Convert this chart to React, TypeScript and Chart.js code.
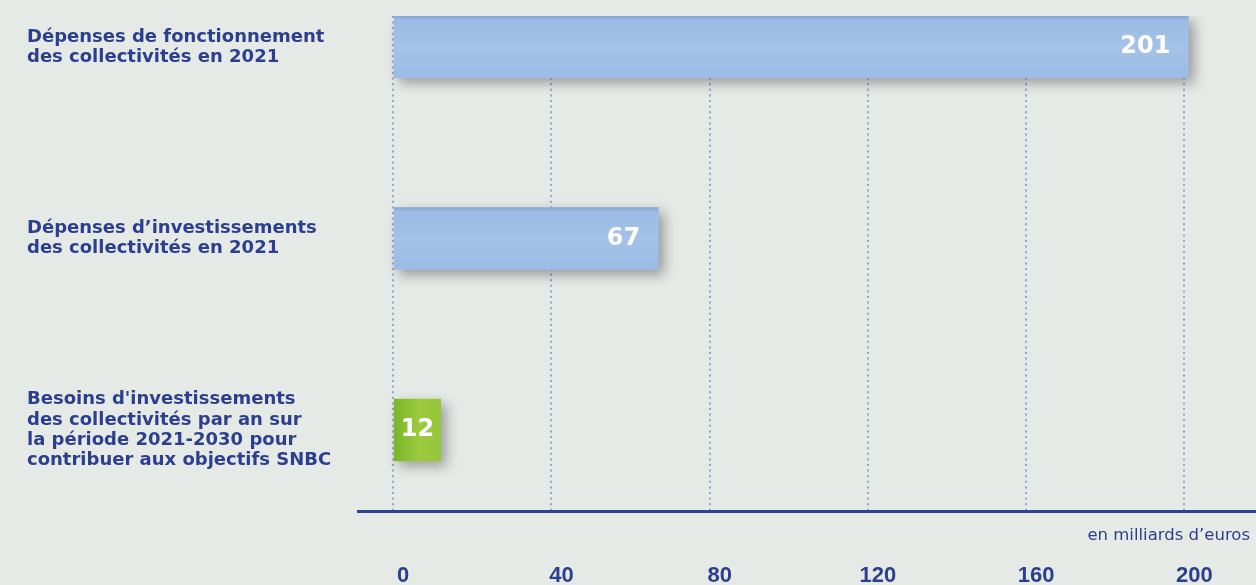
import React, { useEffect, useRef } from "react";
import { Chart, registerables } from "chart.js";

Chart.register(...registerables);

// ---- data ----
const categories: string[][] = [
  ["Dépenses de fonctionnement", "des collectivités en 2021"],
  ["Dépenses d’investissements", "des collectivités en 2021"],
  [
    "Besoins d'investissements",
    "des collectivités par an sur",
    "la période 2021-2030 pour",
    "contribuer aux objectifs SNBC",
  ],
];
const values: number[] = [201, 67, 12];
const barKinds: string[] = ["blue", "blue", "green"];
const xTickValues: number[] = [0, 40, 80, 120, 160, 200];
const unitLabel = "en milliards d’euros";

// ---- styles ----
const BG = "#e6eae7";
const NAVY = "#2b3f8e";
const GRID = "#8ea4db";

export default function App() {
  const canvasRef = useRef<HTMLCanvasElement | null>(null);

  useEffect(() => {
    document.body.style.margin = "0";
    document.body.style.background = BG;
    const canvas = canvasRef.current;
    if (!canvas) return;

    const barFill = (c: any) => {
      const chart = c.chart;
      const i = c.dataIndex;
      const xs = chart.scales?.x;
      const ys = chart.scales?.y;
      const fallback = i !== undefined && barKinds[i] === "green" ? "#8fc236" : "#a0bfe6";
      if (i === undefined || !xs || !ys) return fallback;
      const ctx = chart.ctx as CanvasRenderingContext2D;
      const yc = ys.getPixelForValue(i);
      const x0 = xs.getPixelForValue(0);
      const x1 = xs.getPixelForValue(values[i]);
      if (!isFinite(yc) || !isFinite(x0) || !isFinite(x1)) return fallback;
      if (barKinds[i] === "green") {
        const g = ctx.createLinearGradient(x0, 0, x1, 0);
        g.addColorStop(0, "#79b527");
        g.addColorStop(0.55, "#9ccb3f");
        g.addColorStop(1, "#95c53a");
        return g;
      }
      const g = ctx.createLinearGradient(0, yc - 31, 0, yc + 31);
      g.addColorStop(0, "#87a8d8");
      g.addColorStop(0.07, "#9bbbe5");
      g.addColorStop(0.5, "#a4c2e8");
      g.addColorStop(1, "#9cbce5");
      return g;
    };

    const shadowPlugin = {
      id: "barShadow",
      beforeDatasetsDraw(chart: any) {
        const ctx = chart.ctx as CanvasRenderingContext2D;
        ctx.save();
        ctx.shadowColor = "rgba(0,0,0,0.34)";
        ctx.shadowBlur = 12;
        ctx.shadowOffsetX = 5;
        ctx.shadowOffsetY = 5;
      },
      afterDatasetsDraw(chart: any) {
        chart.ctx.restore();
      },
    };

    const labelsPlugin = {
      id: "valueAndUnitLabels",
      afterDraw(chart: any) {
        const ctx = chart.ctx as CanvasRenderingContext2D;
        const meta = chart.getDatasetMeta(0);
        ctx.save();
        ctx.font = "bold 24px 'DejaVu Sans'";
        ctx.fillStyle = "#ffffff";
        ctx.textBaseline = "middle";
        meta.data.forEach((bar: any, i: number) => {
          const text = String(values[i]);
          const w = ctx.measureText(text).width;
          const len = bar.x - bar.base;
          if (len > w + 40) {
            ctx.textAlign = "right";
            ctx.fillText(text, bar.x - 18, bar.y);
          } else {
            ctx.textAlign = "center";
            ctx.fillText(text, (bar.x + bar.base) / 2, bar.y);
          }
        });
        const area = chart.chartArea;
        ctx.font = "16.5px 'DejaVu Sans'";
        ctx.fillStyle = NAVY;
        ctx.textAlign = "right";
        ctx.textBaseline = "alphabetic";
        ctx.fillText(unitLabel, area.right - 6, area.bottom + 29);
        ctx.restore();
      },
    };

    const chart = new Chart(canvas, {
      type: "bar",
      data: {
        datasets: [
          {
            data: values.map((v, i) => ({ x: v, y: i })),
            backgroundColor: barFill,
            borderWidth: 0,
            barThickness: 62,
          },
        ],
      },
      options: {
        indexAxis: "y",
        animation: false,
        responsive: true,
        maintainAspectRatio: false,
        layout: { padding: { top: 16, left: 27, right: 0, bottom: 0 } },
        plugins: {
          legend: { display: false },
          tooltip: { enabled: false },
        },
        scales: {
          x: {
            type: "linear",
            min: -8.9,
            max: 218.1,
            offset: false,
            afterBuildTicks: (scale: any) => {
              scale.ticks = xTickValues.map((v) => ({ value: v }));
            },
            afterFit: (scale: any) => {
              scale.height = 74;
              scale.paddingLeft = 0;
              scale.paddingRight = 0;
            },
            grid: {
              color: GRID,
              lineWidth: 2,
              drawTicks: false,
            },
            border: {
              display: true,
              color: "#2b4496",
              width: 3,
              dash: [2, 3.6],
            },
            ticks: {
              color: NAVY,
              padding: 52,
              labelOffset: 10,
              font: { family: "'Liberation Sans'", size: 22, weight: "bold" },
              callback: (v: any) => String(v),
            },
          },
          y: {
            type: "linear",
            reverse: true,
            offset: false,
            min: -0.162,
            max: 2.423,
            afterBuildTicks: (scale: any) => {
              scale.ticks = categories.map((_, i) => ({ value: i }));
            },
            afterFit: (scale: any) => {
              scale.width = 331;
              scale.paddingTop = 0;
              scale.paddingBottom = 0;
            },
            grid: { display: false, offset: false },
            border: { display: false },
            ticks: {
              autoSkip: false,
              crossAlign: "far",
              padding: 0,
              color: NAVY,
              font: { family: "'DejaVu Sans'", size: 18, weight: "bold", lineHeight: 1.13 },
              callback: (v: any) => categories[Math.round(Number(v))] ?? "",
            },
          },
        },
      },
      plugins: [shadowPlugin, labelsPlugin],
    } as any);

    return () => chart.destroy();
  }, []);

  return (
    <div style={{ width: 1256, height: 585, background: BG, position: "relative" }}>
      <canvas ref={canvasRef} />
    </div>
  );
}
